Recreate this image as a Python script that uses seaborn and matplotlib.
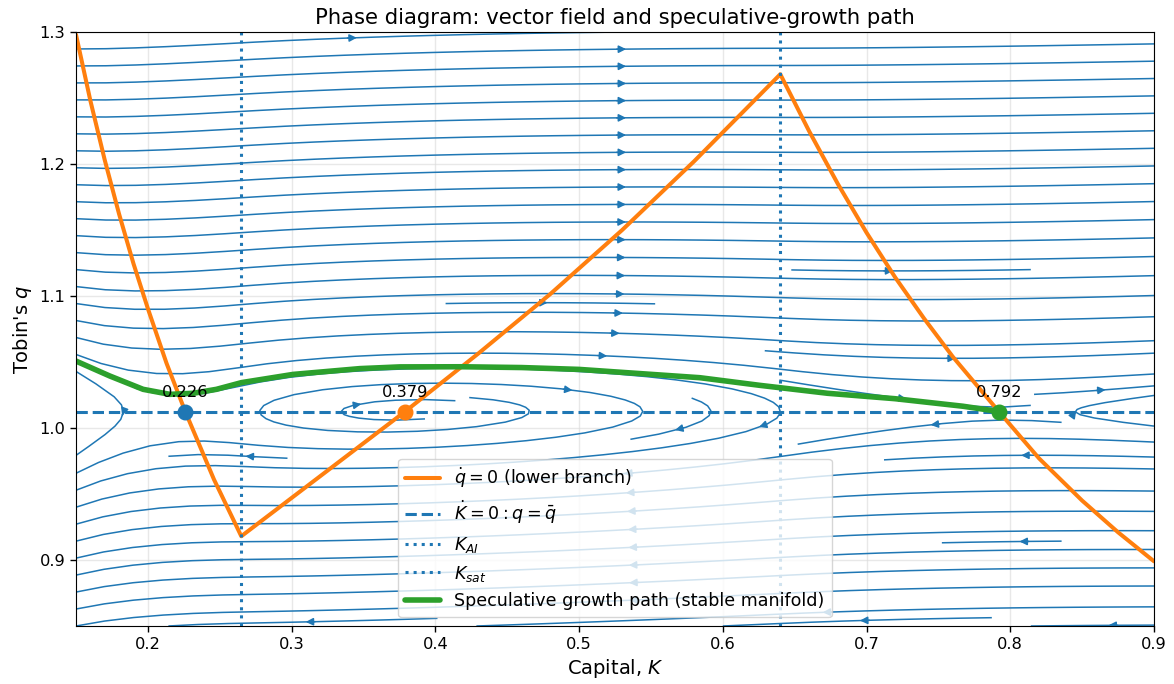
import numpy as np
import pandas as pd
import matplotlib
matplotlib.use("Agg")
import matplotlib.pyplot as plt
import seaborn as sns

# ---- data ----
K_AI = 0.265
K_sat = 0.64
q_bar = 1.0125

# q-dot = 0 nullcline (lower branch), three pieces
K_null_left = [0.15, 0.16, 0.17, 0.18, 0.19, 0.20, 0.213, 0.226, 0.246, 0.265]
q_null_left = [1.298, 1.248, 1.203, 1.162, 1.1245, 1.0905, 1.049, 1.0125, 0.961, 0.918]
K_null_mid = [0.265, 0.379, 0.43, 0.48, 0.53, 0.58, 0.64]
q_null_mid = [0.918, 1.0125, 1.0565, 1.1015, 1.150, 1.202, 1.268]
K_null_right = [0.64, 0.66, 0.68, 0.70, 0.72, 0.74, 0.76, 0.792, 0.82, 0.85, 0.875, 0.90]
q_null_right = [1.268, 1.225, 1.185, 1.148, 1.114, 1.083, 1.054, 1.0125, 0.977, 0.945, 0.921, 0.899]

# speculative growth path (stable manifold)
K_path = [0.150, 0.1735, 0.1967, 0.2153, 0.2315, 0.2477, 0.2652, 0.301, 0.3475,
          0.3754, 0.418, 0.46, 0.500, 0.5841, 0.6259, 0.6729, 0.7198, 0.767, 0.792]
q_path = [1.0507, 1.0394, 1.0293, 1.0255, 1.0263, 1.0293, 1.0344, 1.0406, 1.0450,
          1.0463, 1.0464, 1.0458, 1.0444, 1.0381, 1.0323, 1.0263, 1.0222, 1.0165, 1.0125]

# steady states
K_eq = [0.226, 0.379, 0.792]
eq_colors = ["C0", "C1", "C2"]

# vector field speeds
s_K = 2.5
c_q = 0.03

# ---- figure ----
sns.set_style("ticks")
plt.rcParams["font.family"] = ["DejaVu Sans"]
plt.rcParams["mathtext.fontset"] = "dejavusans"
for key in ["text.color", "axes.labelcolor", "xtick.color", "ytick.color", "axes.edgecolor"]:
    plt.rcParams[key] = "black"

fig = plt.figure(figsize=(11.74, 6.84), dpi=100)
ax = fig.add_axes([76 / 1174, 1 - 626 / 684, (1154 - 76) / 1174, (626 - 32) / 684])

# vector field
K_all = np.array(K_null_left + K_null_mid[1:] + K_null_right[1:])
q_all = np.array(q_null_left + q_null_mid[1:] + q_null_right[1:])
Kg = np.linspace(0.15, 0.9, 250)
qg = np.linspace(0.85, 1.3, 250)
KK, QQ = np.meshgrid(Kg, qg)
qn = np.interp(KK, K_all, q_all)
U = s_K * (QQ - q_bar) * KK
V = c_q * (QQ - qn)
ax.streamplot(KK, QQ, U, V, density=1.2, color="C0", linewidth=1.1, arrowsize=1.1)

null_df = pd.DataFrame({
    "K": K_null_left + K_null_mid + K_null_right,
    "q": q_null_left + q_null_mid + q_null_right,
})
sns.lineplot(data=null_df, x="K", y="q", ax=ax, color="C1", lw=2.9,
             estimator=None, sort=False, label=r"$\dot q = 0$ (lower branch)")
ax.axhline(q_bar, color="C0", ls="--", lw=2.2, label=r"$\dot K = 0: q = \bar q$")
ax.axvline(K_AI, color="C0", ls=":", lw=2.2, label=r"$K_{AI}$")
ax.axvline(K_sat, color="C0", ls=":", lw=2.2, label=r"$K_{sat}$")
path_df = pd.DataFrame({"K": K_path, "q": q_path})
sns.lineplot(data=path_df, x="K", y="q", ax=ax, color="C2", lw=4,
             estimator=None, sort=False,
             label="Speculative growth path (stable manifold)")

for k, c in zip(K_eq, eq_colors):
    ax.plot([k], [q_bar], "o", color=c, ms=10.5, zorder=5)
    ax.annotate(f"{k:.3f}", (k, q_bar), textcoords="offset points", xytext=(0, 8),
                ha="center", va="bottom", fontsize=11.7, zorder=6)

ax.set_xlim(0.15, 0.9)
ax.set_ylim(0.85, 1.3)
ax.set_xticks([0.2, 0.3, 0.4, 0.5, 0.6, 0.7, 0.8, 0.9])
ax.set_yticks([0.9, 1.0, 1.1, 1.2, 1.3])
ax.tick_params(labelsize=11.7, direction="out", length=4.2, width=1, color="black")
ax.grid(True, color="0.85", alpha=0.6, lw=1)
for sp in ax.spines.values():
    sp.set_visible(True)
    sp.set_color("black")
ax.set_xlabel("Capital, $K$", fontsize=14)
ax.set_ylabel("Tobin's $q$", fontsize=14)
ax.set_title("Phase diagram: vector field and speculative-growth path", fontsize=15.2)
ax.legend(loc="lower center", fontsize=12.6, framealpha=0.8)

fig.savefig("out.png", dpi=100)
